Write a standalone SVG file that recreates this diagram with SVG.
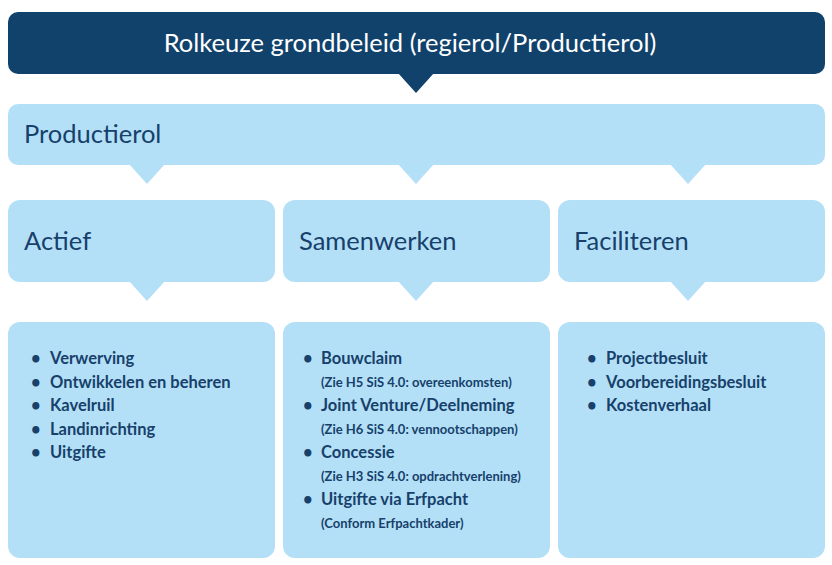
<svg xmlns="http://www.w3.org/2000/svg" width="832" height="565" viewBox="0 0 832 565">
<style>
.l{fill:#b3e0f7}
.t{font-family:Lato,"Liberation Sans",sans-serif;fill:#17406b}
.h{font-size:25.5px}
.b{font-size:16.5px;font-weight:bold}
.s{font-size:13px;font-weight:bold}
</style>
<rect width="832" height="565" fill="#fff"/>
<g id="header">
<rect x="8" y="12" width="817" height="62" rx="10" fill="#11426c"/>
<polygon points="398,73 434,73 416,93" fill="#11426c"/>
<text x="410" y="52" text-anchor="middle" class="t h" style="fill:#fff">Rolkeuze grondbeleid (regierol/Productierol)</text>
</g>
<g id="productierol">
<rect class="l" x="8" y="104" width="817" height="61" rx="10"/>
<polygon class="l" points="129,164 165,164 147,184"/>
<polygon class="l" points="398,164 434,164 416,184"/>
<polygon class="l" points="670,164 706,164 688,184"/>
<text x="24" y="143" class="t h">Productierol</text>
</g>
<g id="actief">
<rect class="l" x="8" y="200" width="267" height="82" rx="12"/>
<polygon class="l" points="129,281 165,281 147,301"/>
<text x="24" y="250" class="t h">Actief</text>
</g>
<g id="samenwerken">
<rect class="l" x="283" y="200" width="267" height="82" rx="12"/>
<polygon class="l" points="398,281 434,281 416,301"/>
<text x="299" y="250" class="t h">Samenwerken</text>
</g>
<g id="faciliteren">
<rect class="l" x="558" y="200" width="267" height="82" rx="12"/>
<polygon class="l" points="670,281 706,281 688,301"/>
<text x="574" y="250" class="t h">Faciliteren</text>
</g>
<g id="actief-list">
<rect class="l" x="8" y="322" width="267" height="236" rx="12"/>
<g class="t b">
<text x="31" y="364">•</text><text x="50" y="364">Verwerving</text>
<text x="31" y="388">•</text><text x="50" y="388">Ontwikkelen en beheren</text>
<text x="31" y="411">•</text><text x="50" y="411">Kavelruil</text>
<text x="31" y="435">•</text><text x="50" y="435">Landinrichting</text>
<text x="31" y="458">•</text><text x="50" y="458">Uitgifte</text>
</g>
</g>
<g id="samenwerken-list">
<rect class="l" x="283" y="322" width="267" height="236" rx="12"/>
<g class="t">
<text x="303" y="364" class="b">•</text><text x="321" y="364" class="b">Bouwclaim</text>
<text x="321" y="387" class="s">(Zie H5 SiS 4.0: overeenkomsten)</text>
<text x="303" y="411" class="b">•</text><text x="321" y="411" class="b">Joint Venture/Deelneming</text>
<text x="321" y="434" class="s">(Zie H6 SiS 4.0: vennootschappen)</text>
<text x="303" y="458" class="b">•</text><text x="321" y="458" class="b">Concessie</text>
<text x="321" y="481" class="s">(Zie H3 SiS 4.0: opdrachtverlening)</text>
<text x="303" y="505" class="b">•</text><text x="321" y="505" class="b">Uitgifte via Erfpacht</text>
<text x="321" y="528" class="s">(Conform Erfpachtkader)</text>
</g>
</g>
<g id="faciliteren-list">
<rect class="l" x="558" y="322" width="267" height="236" rx="12"/>
<g class="t b">
<text x="587" y="364">•</text><text x="606" y="364">Projectbesluit</text>
<text x="587" y="388">•</text><text x="606" y="388">Voorbereidingsbesluit</text>
<text x="587" y="411">•</text><text x="606" y="411">Kostenverhaal</text>
</g>
</g>
</svg>
